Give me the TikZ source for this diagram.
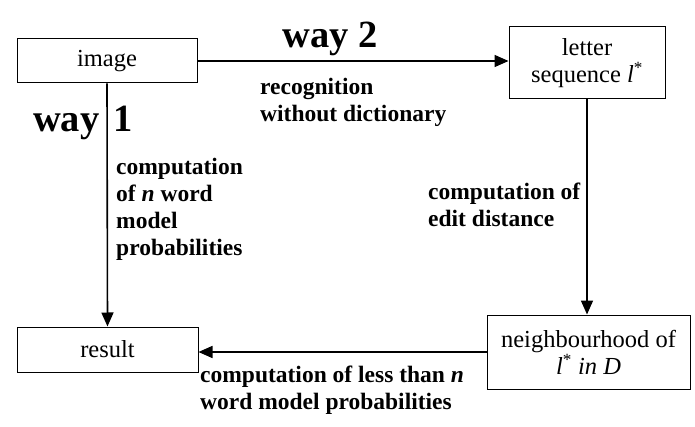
\documentclass[tikz,border=0pt]{standalone}
\usepackage{fontspec}
\setmainfont{Liberation Serif}
\usetikzlibrary{arrows.meta}
\begin{document}
\begin{tikzpicture}[x=1pt,y=-1pt,
  box/.style={draw,line width=1pt,rectangle,inner sep=0pt,font=\fontsize{24.5}{27}\selectfont,align=center},
  lbl/.style={font=\bfseries\fontsize{23.5}{27}\selectfont,align=left,inner sep=0pt,anchor=base west},
  way/.style={font=\bfseries\fontsize{38.5}{40}\selectfont,inner sep=0pt,anchor=base west},
  arr/.style={line width=1.6pt,-{Triangle[length=14pt,width=12pt]}}]
\useasboundingbox (0,0) rectangle (695,427);
\node[box,minimum width=180pt,minimum height=44pt] (image) at (107,61) {image};
\node[box,minimum width=156pt,minimum height=72pt] (letter) at (587,63) {letter\\sequence \textit{l}\textsuperscript{*}};
\node[box,minimum width=181pt,minimum height=45pt] (result) at (107.5,349.5) {result};
\node[box,minimum width=203pt,minimum height=74pt] (neigh) at (588.5,352) {neighbourhood of\\\textit{l}\textsuperscript{*} \textit{in D}};
\draw[arr] (image.east) -- (image.east -| letter.west);
\draw[arr] (image.south) -- (result.north);
\draw[arr] (letter.south) -- (letter.south |- neigh.north);
\draw[arr] (neigh.west) -- (neigh.west -| result.east);
\node[way] (w2) at (282,48) {way 2};
\node[way] (w1) at (33,132) {way\hspace{0.36em}1};
\node[lbl] (l1) at (260,122) {recognition\\without dictionary};
\node[lbl] (l2) at (116,256) {computation\\of \textit{n} word\\model\\probabilities};
\node[lbl] (l3) at (428,227) {computation of\\edit distance};
\node[lbl] (l4) at (200,409) {computation of less than \textit{n}\\word model probabilities};
\end{tikzpicture}
\end{document}
